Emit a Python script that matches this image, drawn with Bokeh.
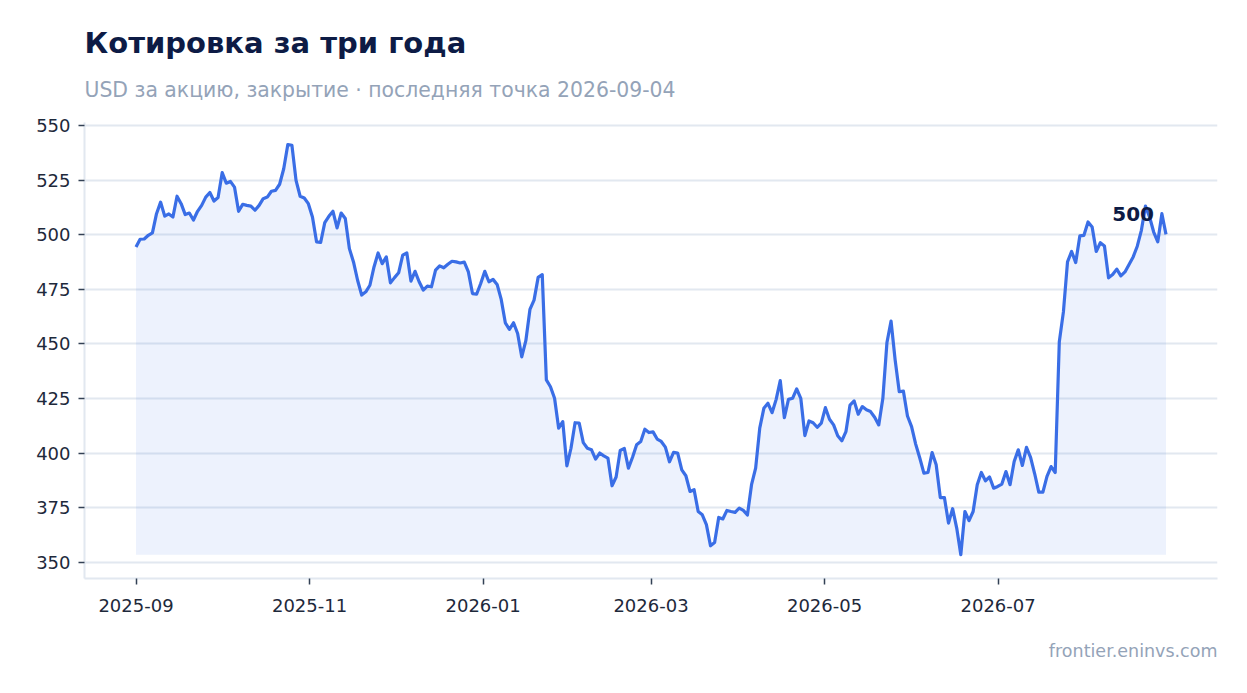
import pandas as pd

from bokeh.embed import file_html
from bokeh.models import (ColumnDataSource, DatetimeTickFormatter, FixedTicker,
                          Label, Range1d, Title)
from bokeh.plotting import figure
from bokeh.resources import INLINE

# ---- data --------------------------------------------------------------
title_text = "Котировка за три года"
subtitle_text = "USD за акцию, закрытие · последняя точка 2026-09-04"
credit_text = "frontier.eninvs.com"

first_day = "2025-09-01"
last_day = "2026-08-29"

price = [
    494.4, 498.0, 498.1, 499.8, 500.9, 509.7, 515.0, 508.6, 509.6, 508.2,
    517.7, 514.3, 509.3, 510.0, 506.8, 510.8, 513.5, 517.3, 519.4, 515.5,
    517.1, 528.5, 523.7, 524.5, 521.9, 510.8, 514.0, 513.5, 513.2, 511.3,
    513.5, 516.6, 517.3, 520.0, 520.4, 523.2, 530.3, 541.4, 541.0, 525.0,
    517.7, 516.9, 514.3, 508.2, 496.8, 496.5, 505.6, 508.5, 510.8, 503.2,
    510.0, 507.5,
    493.7, 487.6, 479.2, 472.4, 473.9, 476.9, 485.3, 491.7, 486.8, 489.9,
    478.0, 480.4, 482.6, 490.7, 491.7, 478.8, 483.3, 478.5, 474.7, 476.5,
    476.2, 483.8, 485.8, 484.9, 486.5, 487.9, 487.6, 487.1, 487.5, 483.0,
    473.1, 472.8, 477.7, 483.3, 478.5, 479.6, 477.3, 470.4, 459.7, 456.7,
    459.7, 454.8, 444.1, 451.5, 465.8, 470.1, 480.5, 481.8,
    433.5, 430.4, 425.1, 411.4, 414.4, 394.1, 402.2, 413.9, 413.7, 404.8,
    402.2, 401.5, 397.2, 400.0, 398.7, 397.7, 385.0, 389.0, 401.2, 402.1,
    393.1, 398.1, 403.8, 405.3, 410.9, 409.4, 409.7, 406.4, 405.3, 402.7,
    396.0, 400.3, 400.0, 392.3, 389.6, 382.4, 383.2, 373.2, 371.7, 367.2,
    357.5, 359.0, 370.5, 369.8, 373.7, 373.2, 372.8, 374.8, 373.7, 371.6,
    385.5, 393.1, 411.4, 420.5,
    422.8, 418.5, 424.6, 433.2, 416.2, 424.6, 425.1, 429.4, 425.1, 408.0,
    414.7, 413.9, 411.8, 413.7, 420.8, 415.5, 412.9, 407.9, 405.6, 409.8,
    422.0, 423.9, 417.8, 421.3, 419.8, 419.0, 416.4, 412.9, 425.1, 450.7,
    460.5, 442.6, 428.1, 428.4, 417.0, 412.1, 404.1, 397.7, 390.8, 391.1,
    400.2, 394.6, 379.6, 379.6, 367.9, 374.5, 365.6, 353.4, 373.2, 369.0,
    373.2,
    385.5, 391.1, 387.3, 389.0, 383.9, 384.7, 385.8, 391.5, 385.5, 396.1,
    401.5, 394.3, 402.6, 398.0, 390.5, 382.1, 382.1, 389.3, 393.8, 391.1,
    451.0, 464.7, 487.6, 492.4, 487.3, 499.5, 499.8, 505.9, 503.6, 492.4,
    496.4, 494.9, 480.3, 481.8, 484.3, 481.2, 483.0, 486.4, 489.9, 494.8,
    502.1, 513.2, 508.2, 501.3, 496.8, 509.7, 500.2,
]

x_tick_dates = ["2025-09-01", "2025-11-01", "2026-01-01",
                "2026-03-01", "2026-05-01", "2026-07-01"]
y_ticks = [350, 375, 400, 425, 450, 475, 500, 525, 550]

# ---- colours / fonts ----------------------------------------------------
FONT = "DejaVu Sans"
NAVY = "#0d1b45"
MUTED = "#94a3b8"
INK = "#1e293b"
GRID = "#e2e8f0"
BLUE = "#3a6ee6"

dates = pd.date_range(first_day, last_day, periods=len(price))
src = ColumnDataSource(data=dict(date=dates, price=price,
                                 base=[min(price)] * len(price)))

pad = (dates[-1] - dates[0]) * 0.05
p = figure(width=1230, height=684, x_axis_type="datetime",
           output_backend="svg", toolbar_location=None,
           x_range=Range1d(dates[0] - pad, dates[-1] + pad),
           y_range=Range1d(342.5, 551.5),
           min_border_left=84, min_border_right=13,
           min_border_top=122, min_border_bottom=10)
p.outline_line_color = None
p.background_fill_color = "white"
p.border_fill_color = "white"

# titles: nearest to the plot is added first
p.add_layout(Title(text=subtitle_text, text_font=FONT, text_font_size="20.4px",
                   text_font_style="normal", text_color=MUTED, align="left",
                   standoff=41), "above")
p.add_layout(Title(text=title_text, text_font=FONT, text_font_size="29px",
                   text_font_style="bold", text_color=NAVY, align="left",
                   standoff=-8), "above")
p.add_layout(Title(text=credit_text, text_font=FONT, text_font_size="17.5px",
                   text_font_style="normal", text_color=MUTED, align="right",
                   standoff=48), "below")

# area + line
p.varea(x="date", y1="base", y2="price", source=src,
        fill_color=BLUE, fill_alpha=0.09)
p.line(x="date", y="price", source=src, line_color=BLUE, line_width=3.2,
       line_join="round")

last = Label(x=dates[-1], y=price[-1], text=f"{price[-1]:.0f}",
             x_offset=-12, y_offset=13, text_align="right",
             text_baseline="bottom", text_font=FONT, text_font_size="20px",
             text_font_style="bold", text_color=NAVY)
p.add_layout(last)

# axes
p.xaxis.ticker = FixedTicker(ticks=[pd.Timestamp(d).value / 1e6 for d in x_tick_dates])
p.xaxis.formatter = DatetimeTickFormatter(months="%Y-%m", days="%Y-%m",
                                          years="%Y-%m")
p.yaxis.ticker = FixedTicker(ticks=y_ticks)

for ax in (p.xaxis, p.yaxis):
    ax.axis_line_color = GRID
    ax.axis_line_width = 2
    ax.major_tick_line_color = "#334155"
    ax.major_tick_line_width = 1.5
    ax.major_tick_out = 6
    ax.major_tick_in = 0
    ax.minor_tick_line_color = None
    ax.major_label_text_font = FONT
    ax.major_label_text_font_size = "18px"
    ax.major_label_text_color = INK
p.xaxis.major_label_standoff = 14
p.yaxis.major_label_standoff = 8

p.xgrid.grid_line_color = None
p.ygrid.grid_line_color = GRID
p.ygrid.grid_line_width = 2

open("out.html", "w").write(file_html(p, INLINE))
